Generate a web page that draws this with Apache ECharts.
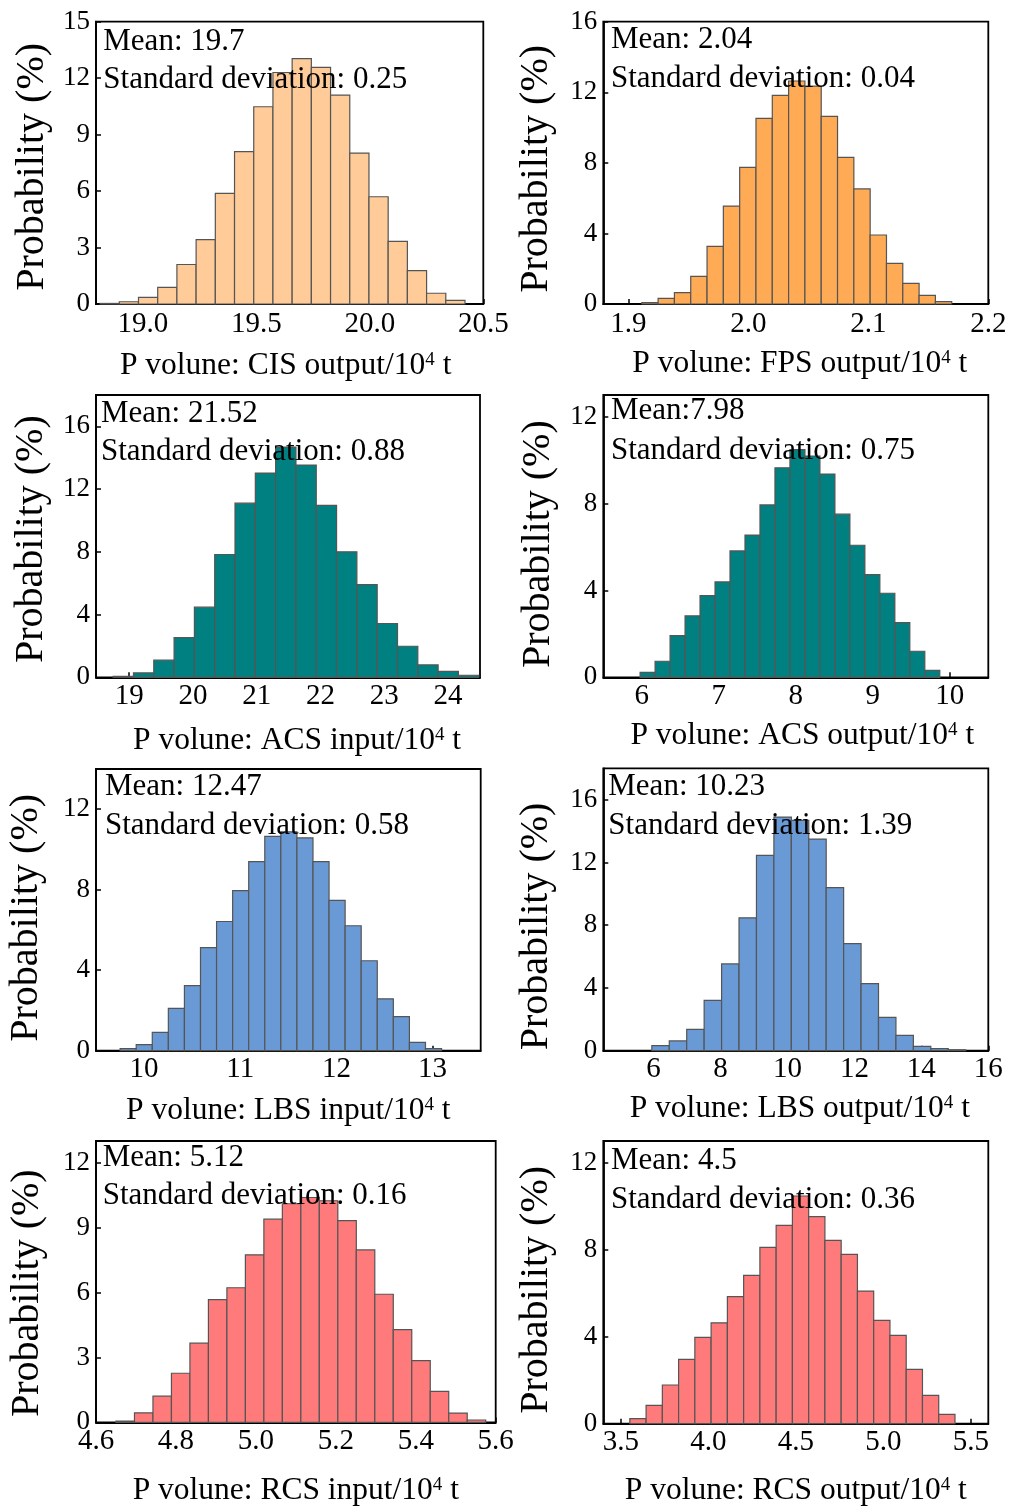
<!DOCTYPE html>
<html><head><meta charset="utf-8">
<script src="https://cdn.jsdelivr.net/npm/echarts@6/dist/echarts.min.js"></script>
<style>html,body{margin:0;padding:0;background:#fff}#c{width:1010px;height:1508px}</style>
</head><body><div id="c"></div>
<script>
// ---------- DATA ----------
// Panel 1: CIS output
const cisOutBinStart = 18.812, cisOutBinWidth = 0.0846;
const cisOutHeights = [0.03,0.12,0.35,0.88,2.1,3.42,5.88,8.1,10.48,12.3,13.04,12.57,11.1,8.02,5.7,3.33,1.77,0.57,0.19];
const cisOutXTicks = ['19.0','19.5','20.0','20.5'];
const cisOutYTicks = ['0','3','6','9','12','15'];
// Panel 2: FPS output
const fpsOutBinStart = 1.9111, fpsOutBinWidth = 0.0136;
const fpsOutHeights = [0.08,0.32,0.64,1.57,3.27,5.55,7.74,10.52,11.82,12.64,12.35,10.63,8.31,6.52,3.91,2.3,1.17,0.49,0.13];
const fpsOutXTicks = ['1.9','2.0','2.1','2.2'];
const fpsOutYTicks = ['0','4','8','12','16'];
// Panel 3: ACS input
const acsInBinStart = 18.749, acsInBinWidth = 0.3184;
const acsInHeights = [0.06,0.28,1.09,2.53,4.47,7.83,11.1,13.02,14.68,13.53,10.96,8.0,5.91,3.43,1.98,0.79,0.38,0.13];
const acsInXTicks = ['19','20','21','22','23','24'];
const acsInYTicks = ['0','4','8','12','16'];
// Panel 4: ACS output
const acsOutBinStart = 5.978, acsOutBinWidth = 0.1946;
const acsOutHeights = [0.23,0.74,1.92,2.83,3.76,4.39,5.82,6.55,7.94,9.65,10.48,10.19,9.36,7.51,6.08,4.73,3.87,2.52,1.2,0.32];
const acsOutXTicks = ['6','7','8','9','10'];
const acsOutYTicks = ['0','4','8','12'];
// Panel 5: LBS input
const lbsInBinStart = 9.751, lbsInBinWidth = 0.1671;
const lbsInHeights = [0.1,0.3,0.91,2.1,3.23,5.12,6.42,7.96,9.4,10.65,10.88,10.58,9.4,7.47,6.21,4.47,2.58,1.69,0.41,0.1];
const lbsInXTicks = ['10','11','12','13'];
const lbsInYTicks = ['0','4','8','12'];
// Panel 6: LBS output
const lbsOutBinStart = 5.95, lbsOutBinWidth = 0.5208;
const lbsOutHeights = [0.32,0.62,1.36,3.21,5.53,8.47,12.45,14.89,14.68,13.49,10.4,6.83,4.28,2.13,0.98,0.28,0.13,0.06];
const lbsOutXTicks = ['6','8','10','12','14','16'];
const lbsOutYTicks = ['0','4','8','12','16'];
// Panel 7: RCS input
const rcsInBinStart = 4.65, rcsInBinWidth = 0.04625;
const rcsInHeights = [0.06,0.44,1.21,2.27,3.66,5.67,6.22,7.74,9.39,10.1,10.39,10.24,9.32,7.97,5.92,4.29,2.85,1.43,0.43,0.11];
const rcsInXTicks = ['4.6','4.8','5.0','5.2','5.4','5.6'];
const rcsInYTicks = ['0','3','6','9','12'];
// Panel 8: RCS output
const rcsOutBinStart = 3.5516, rcsOutBinWidth = 0.0929;
const rcsOutHeights = [0.23,0.84,1.78,2.96,3.97,4.64,5.84,6.82,8.11,9.12,10.47,9.52,8.43,7.79,6.1,4.75,4.06,2.5,1.3,0.43];
const rcsOutXTicks = ['3.5','4.0','4.5','5.0','5.5'];
const rcsOutYTicks = ['0','4','8','12'];

const xTitles = ['CIS output','FPS output','ACS input','ACS output','LBS input','LBS output','RCS input','RCS output'];
const meanTexts = ['Mean: 19.7','Mean: 2.04','Mean: 21.52','Mean:7.98','Mean: 12.47','Mean: 10.23','Mean: 5.12','Mean: 4.5'];
const sdTexts = ['Standard deviation: 0.25','Standard deviation: 0.04','Standard deviation: 0.88','Standard deviation: 0.75','Standard deviation: 0.58','Standard deviation: 1.39','Standard deviation: 0.16','Standard deviation: 0.36'];

// ---------- LAYOUT / STYLE ----------
const FONT = '"Liberation Serif","Times New Roman",serif';
const panels = [
  {start:cisOutBinStart,width:cisOutBinWidth,h:cisOutHeights,xt:cisOutXTicks,yt:cisOutYTicks,xMin:18.794,xMax:20.5,yMax:15,color:'#FFCC99',
   box:[96,21.7,483.3,304],xm:6,ng:46.5,np:[0,8,0,0],yg:44,yp:8,tx:103.3,ty:[41.8,80.2]},
  {start:fpsOutBinStart,width:fpsOutBinWidth,h:fpsOutHeights,xt:fpsOutXTicks,yt:fpsOutYTicks,xMin:1.879,xMax:2.2,yMax:16,color:'#FFAA55',
   box:[603.3,21.7,988.3,304],xm:6,ng:45,np:[0,0,0,8],yg:46.6,yp:12,tx:611,ty:[39.5,78.5]},
  {start:acsInBinStart,width:acsInBinWidth,h:acsInHeights,xt:acsInXTicks,yt:acsInYTicks,xMin:18.48,xMax:24.5,yMax:18,color:'#008080',
   box:[96,395,480,677.3],xm:4.5,ng:48,np:[0,0,0,18],yg:44.6,yp:6,tx:101,ty:[413.5,452.2]},
  {start:acsOutBinStart,width:acsOutBinWidth,h:acsOutHeights,xt:acsOutXTicks,yt:acsOutYTicks,xMin:5.5,xMax:10.5,yMax:13,color:'#008080',
   box:[603.3,395,988.3,677.3],xm:4.5,ng:43,np:[0,0,0,13],yg:44.9,yp:16,tx:611,ty:[411.2,450.5]},
  {start:lbsInBinStart,width:lbsInBinWidth,h:lbsInHeights,xt:lbsInXTicks,yt:lbsInYTicks,xMin:9.5,xMax:13.5,yMax:14,color:'#6A9AD6',
   box:[96,769,480.7,1050.7],xm:4,ng:44.6,np:[0,0,0,0],yg:49.3,yp:16,tx:105,ty:[786.8,825.5]},
  {start:lbsOutBinStart,width:lbsOutBinWidth,h:lbsOutHeights,xt:lbsOutXTicks,yt:lbsOutYTicks,xMin:4.5,xMax:16,yMax:18,color:'#6A9AD6',
   box:[603.3,768.3,988.3,1050.7],xm:4,ng:43.3,np:[0,0,0,8],yg:46.6,yp:34,tx:608.3,ty:[786.8,825.5]},
  {start:rcsInBinStart,width:rcsInBinWidth,h:rcsInHeights,xt:rcsInXTicks,yt:rcsInYTicks,xMin:4.6,xMax:5.6,yMax:13,color:'#FF7B7B',
   box:[96,1141,495.7,1423.7],xm:4.5,ng:53.6,np:[0,0,0,0],yg:48.3,yp:23,tx:102.7,ty:[1157.8,1196.2]},
  {start:rcsOutBinStart,width:rcsOutBinWidth,h:rcsOutHeights,xt:rcsOutXTicks,yt:rcsOutYTicks,xMin:3.4,xMax:5.6,yMax:13,color:'#FF7B7B',
   box:[603.3,1141,988.3,1423.7],xm:4.5,ng:51.6,np:[0,0,0,0],yg:46.6,yp:15,tx:611,ty:[1161.2,1199.5]}
];

function decimals(s){ const i = s.indexOf('.'); return i < 0 ? 0 : s.length - i - 1; }

const grid = [], xAxis = [], yAxis = [], series = [], graphic = [];
panels.forEach((p, i) => {
  const b = p.box;
  grid.push({left:b[0], top:b[1], width:b[2]-b[0], height:b[3]-b[1], show:true, borderColor:'#000', borderWidth:1.8, backgroundColor:'transparent', containLabel:false});
  const xVals = p.xt.map(Number), xDec = decimals(p.xt[0]);
  const yVals = p.yt.map(Number);
  xAxis.push({
    gridIndex:i, type:'value', min:p.xMin, max:p.xMax,
    axisLine:{show:true, onZero:false, lineStyle:{color:'#000', width:1.8}},
    axisTick:{show:true, inside:true, length:5, lineStyle:{color:'#000', width:1.5}, customValues:xVals},
    axisLabel:{customValues:xVals, formatter:v => Number(v).toFixed(xDec), fontSize:29, fontFamily:FONT, color:'#000', margin:p.xm, hideOverlap:false},
    splitLine:{show:false},
    name:'P volune: ' + xTitles[i] + '/10{sup|4}{m| t}', nameLocation:'middle', nameGap:p.ng,
    nameTextStyle:{fontSize:31.5, fontFamily:FONT, color:'#000', lineHeight:30, padding:p.np,
      rich:{sup:{fontSize:19, fontFamily:FONT, color:'#000', lineHeight:12, verticalAlign:'top'},
            m:{fontSize:31.5, fontFamily:FONT, color:'#000', lineHeight:30}}}
  });
  yAxis.push({
    gridIndex:i, type:'value', min:0, max:p.yMax,
    axisLine:{show:true, onZero:false, lineStyle:{color:'#000', width:1.8}},
    axisTick:{show:true, inside:true, length:5, lineStyle:{color:'#000', width:1.5}, customValues:yVals},
    axisLabel:{customValues:yVals, formatter:v => String(Number(v)), fontSize:27, fontFamily:FONT, color:'#000', margin:6},
    splitLine:{show:false},
    name:'Probability (%)', nameLocation:'middle', nameRotate:90, nameGap:p.yg,
    nameTextStyle:{fontSize:40, fontFamily:FONT, color:'#000', padding:[0, p.yp, 0, 0]}
  });
  const data = p.h.map((h, k) => [p.start + k * p.width, p.start + (k + 1) * p.width, h]);
  series.push({
    type:'custom', xAxisIndex:i, yAxisIndex:i, data:data, encode:{x:[0,1], y:2},
    renderItem:(params, api) => {
      const p0 = api.coord([api.value(0), api.value(2)]);
      const p1 = api.coord([api.value(1), 0]);
      return {type:'rect', shape:{x:p0[0], y:p0[1], width:p1[0]-p0[0], height:p1[1]-p0[1]},
              style:{fill:p.color, stroke:'#555', lineWidth:1.2}};
    },
    z:2
  });
  graphic.push({type:'text', x:p.tx, y:p.ty[0], z:100, style:{text:meanTexts[i], font:'31px ' + FONT, fill:'#000', verticalAlign:'middle', align:'left'}});
  graphic.push({type:'text', x:p.tx, y:p.ty[1], z:100, style:{text:sdTexts[i], font:'31px ' + FONT, fill:'#000', verticalAlign:'middle', align:'left'}});
});

const chart = echarts.init(document.getElementById('c'), null, {renderer:'canvas'});
chart.setOption({backgroundColor:'#fff', animation:false, grid, xAxis, yAxis, series, graphic});
</script></body></html>
